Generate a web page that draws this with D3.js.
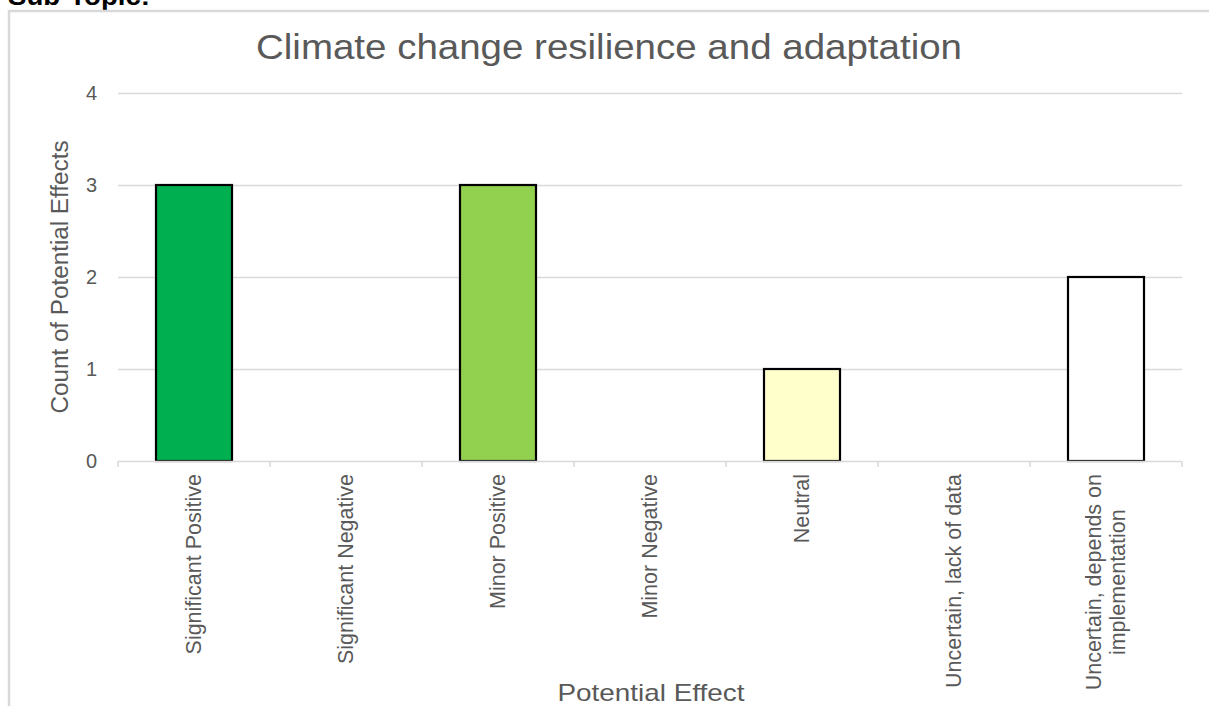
<!DOCTYPE html>
<html>
<head>
<meta charset="utf-8">
<script src="https://cdn.jsdelivr.net/npm/d3@7"></script>
<style>
  html, body { margin: 0; padding: 0; background: #fff; }
  svg { display: block; }
</style>
</head>
<body>
<svg id="chart" width="1209" height="706"></svg>
<script>
// Potential effects recorded for the sub-topic
const categories = [
  "Significant Positive",
  "Significant Negative",
  "Minor Positive",
  "Minor Negative",
  "Neutral",
  "Uncertain, lack of data",
  "Uncertain, depends on implementation"
];
const counts = [3, 0, 3, 0, 1, 0, 2];
const barColors = ["#00b050", "#ff0000", "#92d050", "#ffc000", "#ffffcc", "#d9d9d9", "#ffffff"];
const yTicks = [0, 1, 2, 3, 4];

const svg = d3.select("#chart");
const font = "Liberation Sans, Arial, sans-serif";

// Heading above the chart frame
svg.append("text")
  .attr("x", 8).attr("y", 5)
  .attr("font-family", font).attr("font-weight", "bold")
  .attr("font-size", 26).attr("fill", "#000")
  .attr("textLength", 142).attr("lengthAdjust", "spacingAndGlyphs")
  .text("Sub-Topic:");

// Chart frame
svg.append("rect")
  .attr("x", 9).attr("y", 11)
  .attr("width", 1230).attr("height", 720)
  .attr("fill", "none").attr("stroke", "#d9d9d9").attr("stroke-width", 2.5);

const plot = { left: 118, right: 1182, top: 93, bottom: 461 };

const x = d3.scaleBand()
  .domain(categories)
  .range([plot.left, plot.right])
  .paddingInner(0.5).paddingOuter(0.25);

const y = d3.scaleLinear()
  .domain([0, 4])
  .range([plot.bottom, plot.top]);

// Horizontal gridlines
svg.append("g")
  .selectAll("line")
  .data(yTicks.filter(d => d > 0))
  .join("line")
  .attr("x1", plot.left).attr("x2", plot.right)
  .attr("y1", d => y(d) + 0.5).attr("y2", d => y(d) + 0.5)
  .attr("stroke", "#d9d9d9").attr("stroke-width", 1.5);

// Y axis labels
const yAxis = svg.append("g")
  .attr("transform", `translate(${plot.left},0)`)
  .call(d3.axisLeft(y).tickValues(yTicks).tickSize(0).tickPadding(21).tickFormat(d3.format("d")));
yAxis.select(".domain").remove();
yAxis.selectAll("text")
  .attr("font-family", font).attr("font-size", 20).attr("fill", "#595959");

// Bars
const step = x.step();
svg.append("g")
  .selectAll("rect")
  .data(categories.map((c, i) => ({ c, v: counts[i], color: barColors[i] })).filter(d => d.v > 0))
  .join("rect")
  .attr("x", d => x(d.c))
  .attr("y", d => y(d.v))
  .attr("width", x.bandwidth())
  .attr("height", d => y(0) - y(d.v))
  .attr("fill", d => d.color)
  .attr("stroke", "#000").attr("stroke-width", 2.2);

// X axis line with category boundary ticks
const xAxisG = svg.append("g");
xAxisG.append("line")
  .attr("x1", plot.left).attr("x2", plot.right)
  .attr("y1", plot.bottom + 0.5).attr("y2", plot.bottom + 0.5)
  .attr("stroke", "#d9d9d9").attr("stroke-width", 1.5);
const boundaries = d3.range(categories.length + 1).map(i => plot.left + i * step);
xAxisG.selectAll("line.tick")
  .data(boundaries)
  .join("line").attr("class", "tick")
  .attr("x1", d => d).attr("x2", d => d)
  .attr("y1", plot.bottom).attr("y2", plot.bottom + 6)
  .attr("stroke", "#d9d9d9").attr("stroke-width", 1.5);

// Rotated category labels; long ones wrap onto two lines that are centred
// on each other while the block stays anchored just under the axis
const wrapped = {
  "Uncertain, depends on implementation": ["Uncertain, depends on", "implementation"]
};
const lineH = 24;
categories.forEach(c => {
  const lines = wrapped[c] || [c];
  const cx = x(c) + x.bandwidth() / 2;
  const t = svg.append("text")
    .attr("transform", `translate(${cx},${plot.bottom + 13}) rotate(-90)`)
    .attr("text-anchor", "middle")
    .attr("font-family", font).attr("font-size", 21.5).attr("fill", "#595959");
  const spans = lines.map((ln, i) => t.append("tspan")
    .attr("y", (i - (lines.length - 1) / 2) * lineH + 7)
    .text(ln));
  const maxLen = d3.max(spans, s => s.node().getComputedTextLength());
  spans.forEach(s => s.attr("x", -maxLen / 2));
});

// Chart title
svg.append("text")
  .attr("x", 609).attr("y", 59)
  .attr("text-anchor", "middle")
  .attr("font-family", font).attr("font-size", 35).attr("fill", "#595959")
  .attr("textLength", 706).attr("lengthAdjust", "spacingAndGlyphs")
  .text("Climate change resilience and adaptation");

// Axis titles
svg.append("text")
  .attr("transform", `translate(68,${(plot.top + plot.bottom) / 2}) rotate(-90)`)
  .attr("text-anchor", "middle")
  .attr("font-family", font).attr("font-size", 23).attr("fill", "#595959")
  .attr("textLength", 273).attr("lengthAdjust", "spacingAndGlyphs")
  .text("Count of Potential Effects");

svg.append("text")
  .attr("x", 651).attr("y", 701)
  .attr("text-anchor", "middle")
  .attr("font-family", font).attr("font-size", 24).attr("fill", "#595959")
  .attr("textLength", 187).attr("lengthAdjust", "spacingAndGlyphs")
  .text("Potential Effect");
</script>
</body>
</html>
